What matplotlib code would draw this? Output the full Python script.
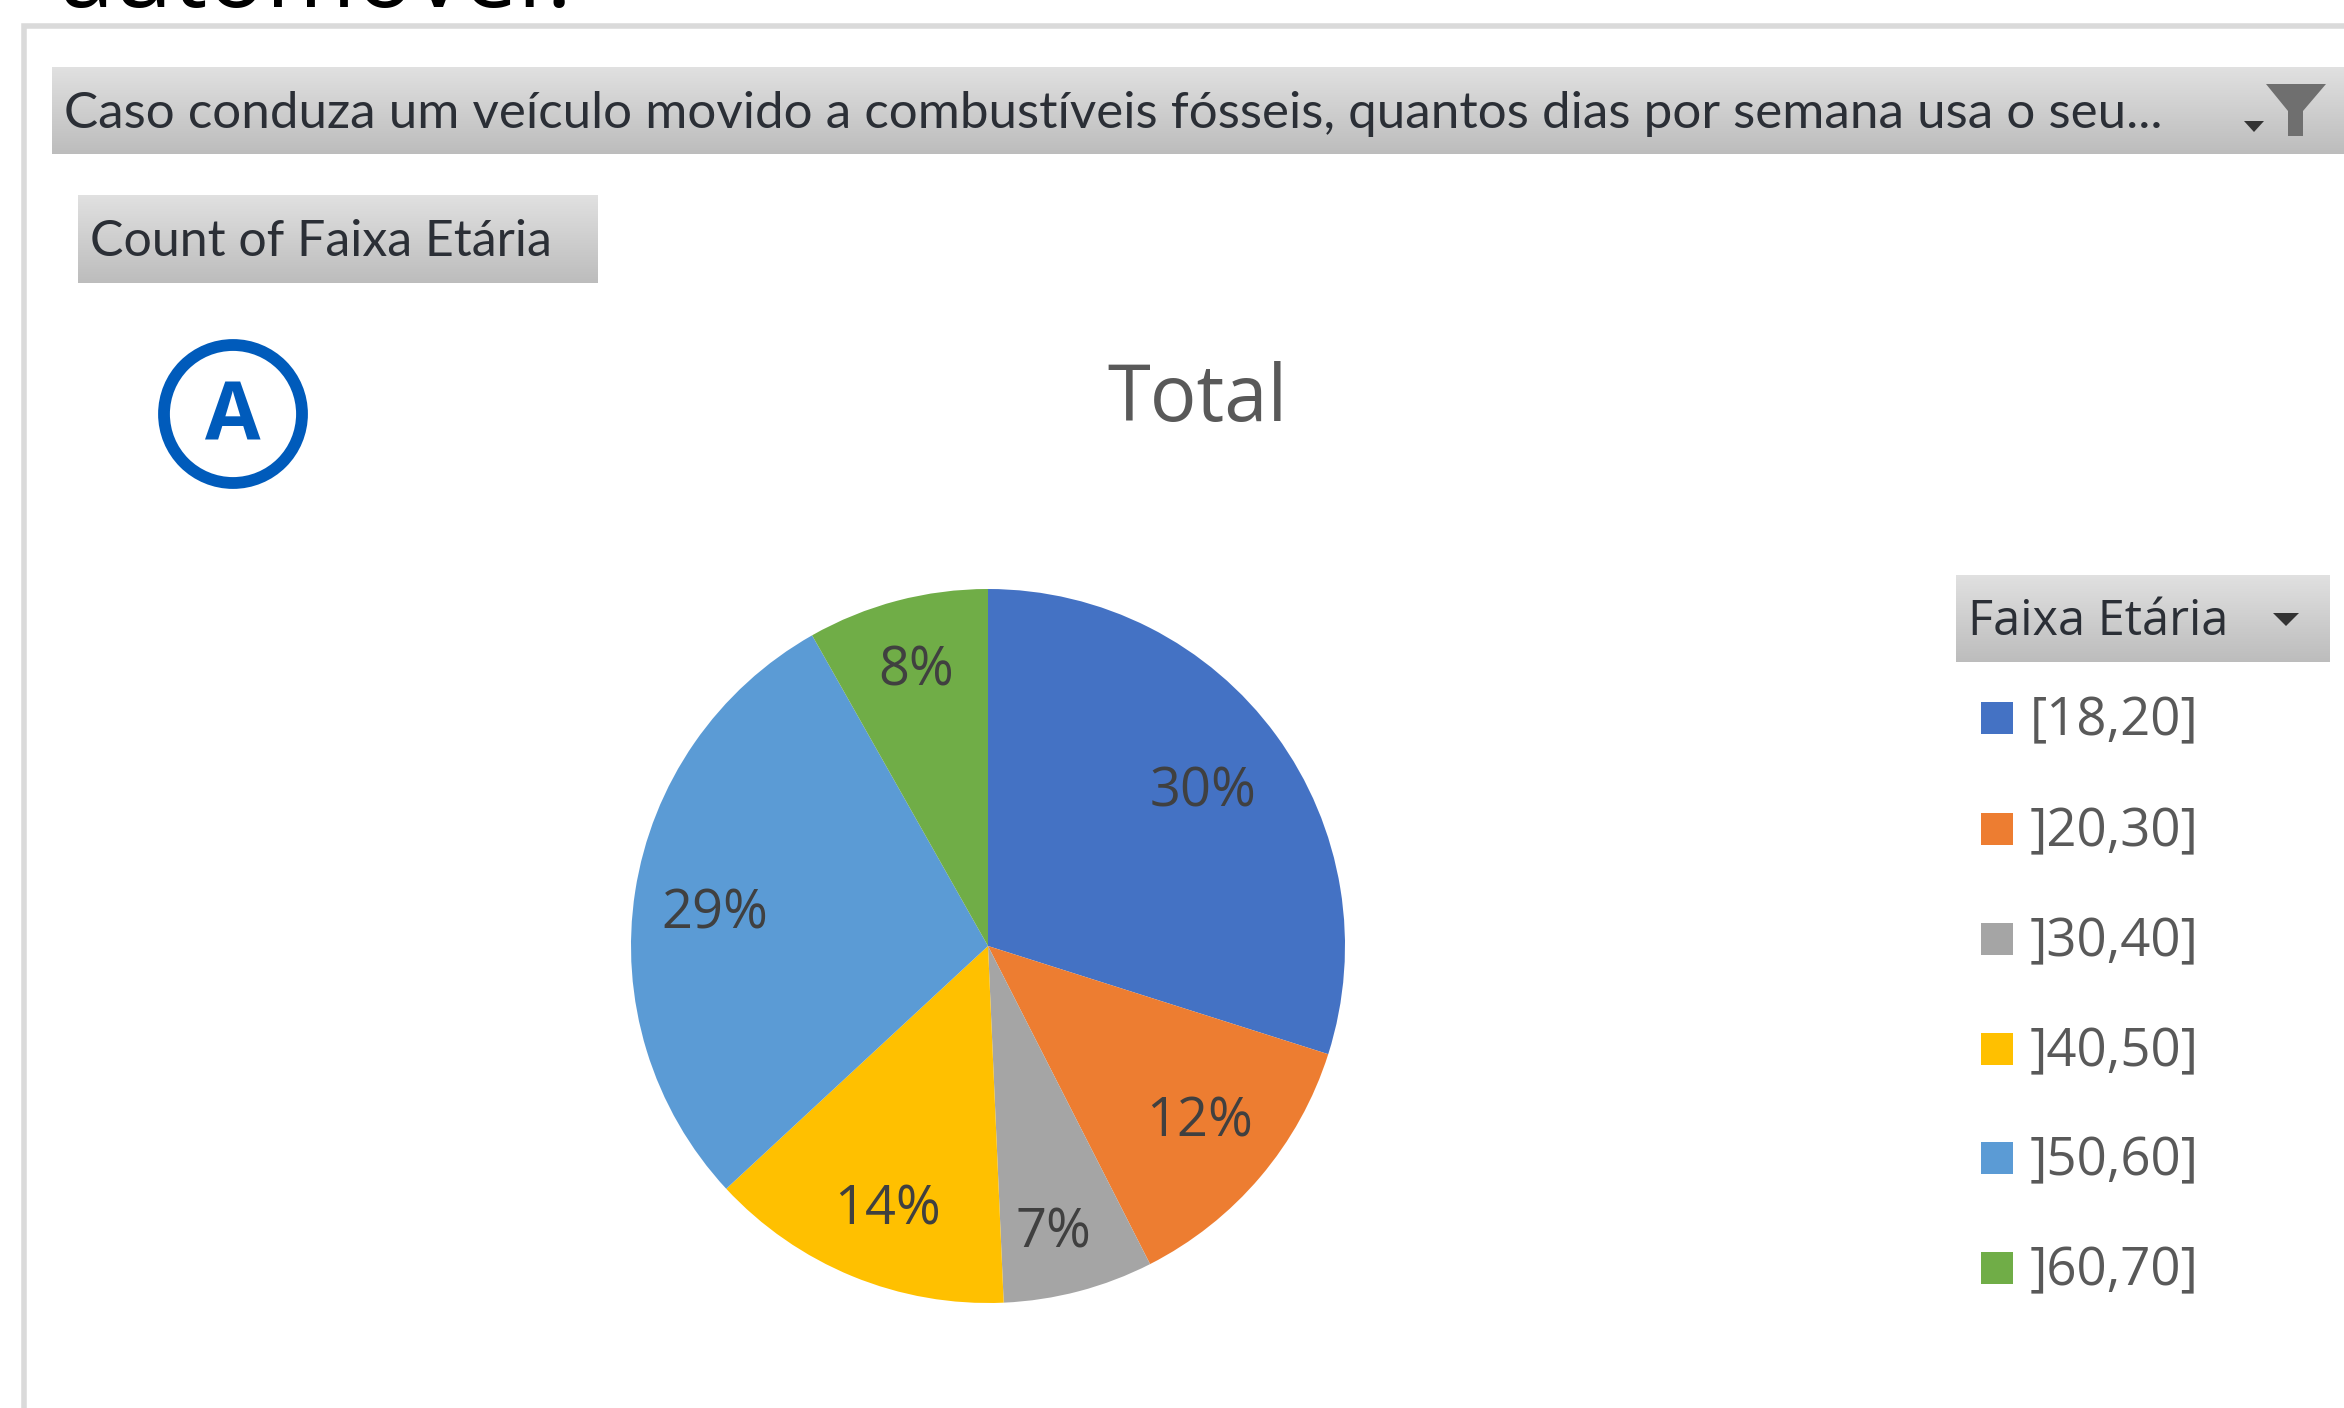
import numpy as np
import matplotlib
matplotlib.use("Agg")
import matplotlib.pyplot as plt
from matplotlib.patches import Circle, Polygon, Rectangle

categories = ["[18,20]", "]20,30]", "]30,40]", "]40,50]", "]50,60]", "]60,70]"]
values = [29.9, 12.6, 6.8, 13.8, 28.7, 8.2]
pct_labels = ["30%", "12%", "7%", "14%", "29%", "8%"]
colors = ["#4472C4", "#ED7D31", "#A5A5A5", "#FFC000", "#5B9BD5", "#70AD47"]
filter_title = "Caso conduza um veículo movido a combustíveis fósseis, quantos dias por semana usa o seu..."
measure_label = "Count of Faixa Etária"
legend_title = "Faixa Etária"
chart_title = "Total"
badge = "A"
cut_heading = "automóvel?"

W, H = 2344, 1408
FONT = "Open Sans"
plt.rcParams["font.family"] = [FONT, "DejaVu Sans"]
fig = plt.figure(figsize=(W / 100, H / 100), dpi=100, facecolor="white")
bg = fig.add_axes([0, 0, 1, 1])
bg.set_xlim(0, W)
bg.set_ylim(H, 0)
bg.axis("off")

def button(x0, y0, x1, y1):
    g = np.linspace(0, 1, 64)[:, None]
    top, bot = np.array([0.88, 0.88, 0.88]), np.array([0.74, 0.74, 0.74])
    img = (top[None, None, :] * (1 - g[..., None]) + bot[None, None, :] * g[..., None])
    bg.imshow(img, extent=(x0, x1, y1, y0), aspect="auto", zorder=2, interpolation="bilinear")

bg.text(60, 7, cut_heading, fontsize=70, color="black", va="baseline", ha="left", clip_on=True)

# outer panel border
bg.add_patch(Rectangle((24, 26), W, H, fc="white", ec="#DADADA", lw=4, zorder=1))

button(52, 67, W, 154)
bg.text(64, 114, filter_title, fontsize=36.8, color="#2B2F36", va="center", ha="left", zorder=3, family="Lato")
bg.add_patch(Polygon([[2266, 84], [2326, 84], [2303, 111], [2303, 136], [2288, 136], [2288, 111]], fc="#6F6F6F", ec="none", zorder=3))
bg.add_patch(Polygon([[2244, 121], [2264, 121], [2254, 132]], fc="#333333", ec="none", zorder=3))

button(78, 195, 598, 283)
bg.text(90, 242, measure_label, fontsize=36, color="#2B2F36", va="center", ha="left", zorder=3, family="Lato")

bg.add_patch(Circle((233, 414), 69, fc="white", ec="#005BBB", lw=8.5, zorder=3))
bg.text(233, 420, badge, fontsize=58, color="#005BBB", fontweight="bold", ha="center", va="center", zorder=4)

bg.text(1197, 400, chart_title, fontsize=56, color="#595959", ha="center", va="center", zorder=3)

# pie
cx, cy, r = 988, 946, 357
ax = fig.add_axes([(cx - r) / W, 1 - (cy + r) / H, 2 * r / W, 2 * r / H])
wedges, _ = ax.pie(values, colors=colors, startangle=90, counterclock=False, radius=1,
                   wedgeprops=dict(edgecolor="none"))
ax.set_xlim(-1, 1)
ax.set_ylim(-1, 1)
ax.set_aspect("equal")

label_r = [0.749, 0.762, 0.81, 0.778, 0.773, 0.81]
label_dang = [-0.2, -1.5, 1.6, -1.2, -1.1, 0.4]
total = sum(values)
cum = 0
for v, lab, rr, da in zip(values, pct_labels, label_r, label_dang):
    ang = np.deg2rad(90 - (cum + v / 2) / total * 360 - da)
    ax.text(rr * np.cos(ang), rr * np.sin(ang) - 0.014, lab, fontsize=39, color="#404040",
            ha="center", va="center")
    cum += v

# legend
button(1956, 575, 2330, 662)
bg.text(1968, 622, legend_title, fontsize=35, color="#2B2F36", va="center", ha="left", zorder=3)
bg.add_patch(Polygon([[2273, 613], [2299, 613], [2286, 626]], fc="#333333", ec="none", zorder=3))
ys = [718, 829, 939, 1049, 1158, 1268]
for lab, c, y in zip(categories, colors, ys):
    bg.add_patch(Rectangle((1981, y - 16), 32, 32, fc=c, ec="none", zorder=3))
    bg.text(2030, y + 4, lab, fontsize=38, color="#595959", va="center", ha="left", zorder=3)

bg.set_xlim(0, W)
bg.set_ylim(H, 0)
fig.savefig("out.png", dpi=100)
